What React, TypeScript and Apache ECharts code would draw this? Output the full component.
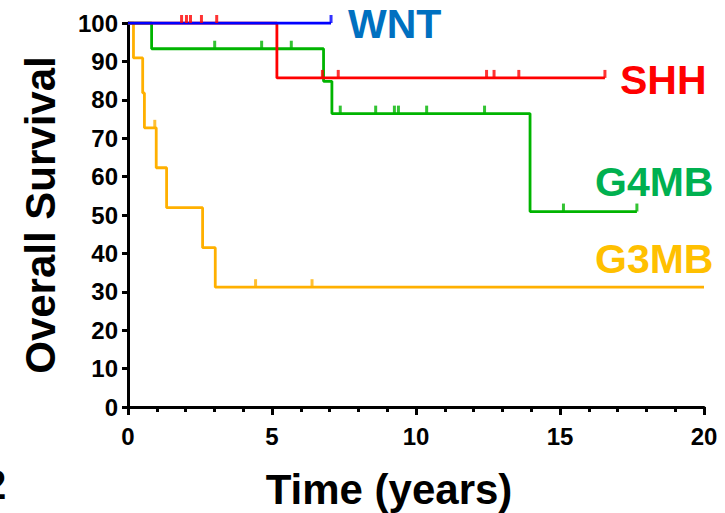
import React, { useEffect, useRef } from "react";
import * as echarts from "echarts";

// Kaplan–Meier steps: [time in years, overall survival %]
const WNT_CURVE: [number, number][] = [[0, 100], [7.05, 100]];
const WNT_CENSORED: [number, number][] = [[7.05, 100]];

const SHH_CURVE: [number, number][] = [[0, 100], [5.17, 85.7], [16.56, 85.7]];
const SHH_CENSORED: [number, number][] = [
  [1.86, 100], [2.03, 100], [2.17, 100], [2.55, 100], [3.08, 100],
  [6.75, 85.7], [7.3, 85.7], [12.45, 85.7], [12.71, 85.7], [13.57, 85.7], [16.56, 85.7],
];

const G4MB_CURVE: [number, number][] = [
  [0, 100], [0.82, 93.3], [6.79, 84.8], [7.08, 76.4], [13.96, 50.9], [17.67, 50.9],
];
const G4MB_CENSORED: [number, number][] = [
  [3.01, 93.3], [4.64, 93.3], [5.67, 93.3],
  [7.37, 76.4], [8.6, 76.4], [9.25, 76.4], [9.39, 76.4], [10.37, 76.4], [12.38, 76.4],
  [15.12, 50.9], [17.67, 50.9],
];

const G3MB_CURVE: [number, number][] = [
  [0, 100], [0.19, 90.9], [0.51, 81.8], [0.57, 72.7], [0.98, 62.3], [1.34, 51.9],
  [2.59, 41.5], [3.03, 31.2], [20, 31.2],
];
const G3MB_CENSORED: [number, number][] = [[0.93, 72.7], [4.43, 31.2], [6.39, 31.2]];

const X_MIN = 0;
const X_MAX = 20;
const X_STEP = 5;
const Y_MIN = 0;
const Y_MAX = 100;
const Y_STEP = 10;

const FONT = "'Liberation Sans', Arial, Helvetica, sans-serif";

const GROUPS = [
  { name: "G3MB", curve: G3MB_CURVE, censored: G3MB_CENSORED, line: "#FFB000", label: "#FFC000", lx: 595, ly: 259 },
  { name: "G4MB", curve: G4MB_CURVE, censored: G4MB_CENSORED, line: "#00B400", label: "#00B050", lx: 595, ly: 182 },
  { name: "SHH", curve: SHH_CURVE, censored: SHH_CENSORED, line: "#FF0000", label: "#FF0000", lx: 620, ly: 80 },
  { name: "WNT", curve: WNT_CURVE, censored: WNT_CENSORED, line: "#0000FF", label: "#0070C0", lx: 348, ly: 24 },
];

export default function App() {
  const ref = useRef<HTMLDivElement>(null);

  useEffect(() => {
    if (!ref.current) return;
    const chart = echarts.init(ref.current, null, { renderer: "svg" });

    const series: any[] = [];
    GROUPS.forEach((g) => {
      series.push({
        name: g.name,
        type: "line",
        step: "end",
        data: g.curve,
        showSymbol: false,
        symbol: "none",
        lineStyle: { color: g.line, width: 2.8 },
        z: 2,
      });
      series.push({
        name: g.name + " censored",
        type: "scatter",
        data: g.censored,
        symbol: "rect",
        symbolSize: [3, 8],
        symbolOffset: [0, -4],
        itemStyle: { color: g.line },
        clip: false,
        z: 2,
      });
    });

    const graphic: any[] = GROUPS.map((g) => ({
      type: "text",
      x: g.lx,
      y: g.ly,
      style: {
        text: g.name,
        fill: g.label,
        font: `bold 41px ${FONT}`,
        textAlign: "left",
        textVerticalAlign: "middle",
      },
    }));
    graphic.push(
      {
        type: "text",
        x: 40,
        y: 215,
        rotation: Math.PI / 2,
        style: {
          text: "Overall Survival",
          fill: "#000",
          font: `bold 42px ${FONT}`,
          textAlign: "center",
          textVerticalAlign: "middle",
        },
      },
      {
        type: "text",
        x: 389,
        y: 489,
        style: {
          text: "Time (years)",
          fill: "#000",
          font: `bold 42px ${FONT}`,
          textAlign: "center",
          textVerticalAlign: "middle",
        },
      },
      {
        type: "text",
        x: -17,
        y: 484,
        style: {
          text: "2",
          fill: "#000",
          font: `bold 42px ${FONT}`,
          textAlign: "left",
          textVerticalAlign: "middle",
        },
      }
    );

    chart.setOption({
      animation: false,
      backgroundColor: "#fff",
      grid: { left: 128, top: 23, right: 21, bottom: 106, containLabel: false },
      xAxis: {
        type: "value",
        min: X_MIN,
        max: X_MAX,
        interval: X_STEP,
        axisLine: { show: true, onZero: false, lineStyle: { color: "#000", width: 3 } },
        axisTick: { show: true, length: 8, lineStyle: { color: "#000", width: 3 } },
        minorTick: { show: true, splitNumber: 5, length: 5, lineStyle: { color: "#000", width: 3 } },
        splitLine: { show: false },
        minorSplitLine: { show: false },
        axisLabel: { color: "#000", fontFamily: FONT, fontWeight: "bold", fontSize: 24, margin: 17 },
      },
      yAxis: {
        type: "value",
        min: Y_MIN,
        max: Y_MAX,
        interval: Y_STEP,
        axisLine: { show: true, onZero: false, lineStyle: { color: "#000", width: 3 } },
        axisTick: { show: true, length: 6, lineStyle: { color: "#000", width: 3 } },
        splitLine: { show: false },
        axisLabel: { color: "#000", fontFamily: FONT, fontWeight: "bold", fontSize: 24, margin: 10 },
      },
      series,
      graphic,
    });

    return () => chart.dispose();
  }, []);

  return (
    <div
      ref={ref}
      style={{ position: "fixed", left: 0, top: 0, width: 725, height: 513, background: "#fff" }}
    />
  );
}
